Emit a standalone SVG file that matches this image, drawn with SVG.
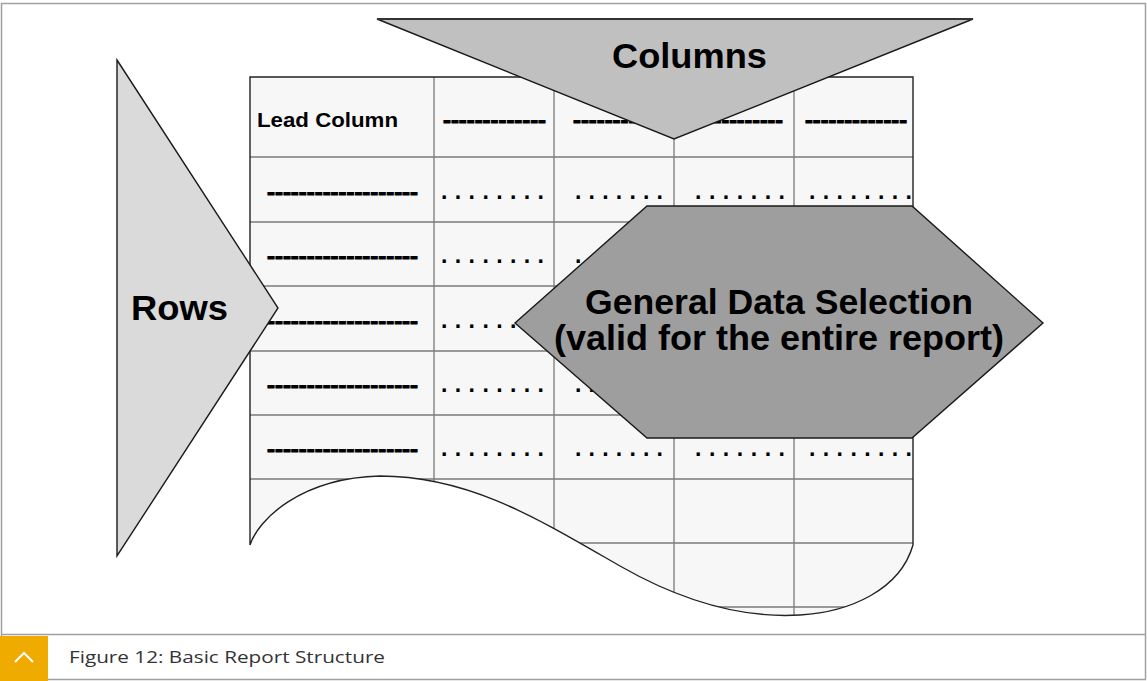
<svg xmlns="http://www.w3.org/2000/svg" width="1147" height="681" viewBox="0 0 1147 681">
<style>
.b{font-family:"Liberation Sans",Arial,sans-serif;font-weight:bold;fill:#000}
.cell{font-size:20px}
.dash{stroke:#000;stroke-width:0.9}
.dots{font-size:23px}
.big{font-size:35px}
.grid{stroke:#7a7a7a;stroke-width:1.3;fill:none}
.shape{stroke:#1a1a1a;stroke-width:1.4;stroke-linejoin:miter}
.cap{font-family:"Open Sans","Liberation Sans",sans-serif;font-size:17px;fill:#333}
</style>
<defs>
<clipPath id="tclip">
<path d="M250,77 H913 V545 C900,590 850,612 800,615 C750,618 690,606 620,566 C540,520 470,476 380,476 C300,478 258,520 250,545 Z"/>
</clipPath>
</defs>
<rect x="0" y="0" width="1147" height="681" fill="#fff"/>
<rect x="1.5" y="3.5" width="1144" height="676" fill="none" stroke="#a0a0a0" stroke-width="1.5"/>
<line x1="1" y1="634.5" x2="1146" y2="634.5" stroke="#a0a0a0" stroke-width="1.5"/>

<g id="table">
<g clip-path="url(#tclip)">
<rect x="250" y="77" width="663" height="545" fill="#f7f7f7"/>
<g class="grid">
<line x1="434" y1="77" x2="434" y2="620"/>
<line x1="554" y1="77" x2="554" y2="620"/>
<line x1="674" y1="77" x2="674" y2="620"/>
<line x1="794" y1="77" x2="794" y2="620"/>
<line x1="250" y1="157" x2="913" y2="157"/>
<line x1="250" y1="222" x2="913" y2="222"/>
<line x1="250" y1="286" x2="913" y2="286"/>
<line x1="250" y1="351" x2="913" y2="351"/>
<line x1="250" y1="415" x2="913" y2="415"/>
<line x1="250" y1="479" x2="913" y2="479"/>
<line x1="250" y1="543" x2="913" y2="543"/>
<line x1="250" y1="607" x2="913" y2="607"/>
</g>
</g>
<path d="M250,545 V77 H913 V545 C900,590 850,612 800,615 C750,618 690,606 620,566 C540,520 470,476 380,476 C300,478 258,520 250,545" fill="none" stroke="#222" stroke-width="1.4"/>
<g class="b cell">
<text x="257" y="127" font-size="21" textLength="141" lengthAdjust="spacingAndGlyphs">Lead Column</text>
</g>
<g class="b cell dash">
<text x="443" y="127" textLength="103" lengthAdjust="spacingAndGlyphs">-------------</text>
<text x="573" y="127" textLength="103" lengthAdjust="spacingAndGlyphs">-------------</text>
<text x="683" y="127" textLength="100" lengthAdjust="spacingAndGlyphs">-------------</text>
<text x="805" y="127" textLength="102" lengthAdjust="spacingAndGlyphs">-------------</text>
<text x="267" y="199" textLength="151" lengthAdjust="spacingAndGlyphs">-------------------</text>
<text x="267" y="263" textLength="151" lengthAdjust="spacingAndGlyphs">-------------------</text>
<text x="267" y="328" textLength="151" lengthAdjust="spacingAndGlyphs">-------------------</text>
<text x="267" y="392" textLength="151" lengthAdjust="spacingAndGlyphs">-------------------</text>
<text x="267" y="456" textLength="151" lengthAdjust="spacingAndGlyphs">-------------------</text>
</g>
<g class="b dots">
<text x="441" y="199" textLength="103" lengthAdjust="spacing">. . . . . . . .</text>
<text x="575" y="199" textLength="88" lengthAdjust="spacing">. . . . . . .</text>
<text x="695" y="199" textLength="90" lengthAdjust="spacing">. . . . . . .</text>
<text x="809" y="199" textLength="103" lengthAdjust="spacing">. . . . . . . .</text>

<text x="441" y="263" textLength="103" lengthAdjust="spacing">. . . . . . . .</text>
<text x="575" y="263" textLength="88" lengthAdjust="spacing">. . . . . . .</text>

<text x="441" y="328" textLength="103" lengthAdjust="spacing">. . . . . . . .</text>

<text x="441" y="392" textLength="103" lengthAdjust="spacing">. . . . . . . .</text>
<text x="575" y="392" textLength="88" lengthAdjust="spacing">. . . . . . .</text>

<text x="441" y="456" textLength="103" lengthAdjust="spacing">. . . . . . . .</text>
<text x="575" y="456" textLength="88" lengthAdjust="spacing">. . . . . . .</text>
<text x="695" y="456" textLength="90" lengthAdjust="spacing">. . . . . . .</text>
<text x="809" y="456" textLength="103" lengthAdjust="spacing">. . . . . . . .</text>
</g>
</g>

<g id="rows">
<polygon class="shape" points="117,60 278,308 117,556" fill="#dadada"/>
<text class="b big" x="131" y="320" textLength="97" lengthAdjust="spacingAndGlyphs">Rows</text>
</g>

<g id="columns">
<polygon class="shape" points="377,19 973,19 674,139" fill="#c0c0c0"/>
<line x1="377" y1="19" x2="973" y2="19" stroke="#333" stroke-width="2"/>
<text class="b big" x="612" y="68" textLength="155" lengthAdjust="spacingAndGlyphs">Columns</text>
</g>

<g id="selection">
<polygon class="shape" points="647,206 912,206 1043,323 912,438 647,438 515,323" fill="#9e9e9e"/>
<text class="b big" x="779" y="314" text-anchor="middle" textLength="388" lengthAdjust="spacingAndGlyphs">General Data Selection</text>
<text class="b big" x="779" y="350" text-anchor="middle" textLength="450" lengthAdjust="spacingAndGlyphs">(valid for the entire report)</text>
</g>

<g id="caption">
<rect x="0" y="636" width="48" height="45" fill="#f0ab00"/>
<polyline points="15,662 24,653 33,662" fill="none" stroke="#fff" stroke-width="2"/>
<text class="cap" x="69" y="663" textLength="316" lengthAdjust="spacingAndGlyphs">Figure 12: Basic Report Structure</text>
</g>
<g id="connectors"/>
</svg>
